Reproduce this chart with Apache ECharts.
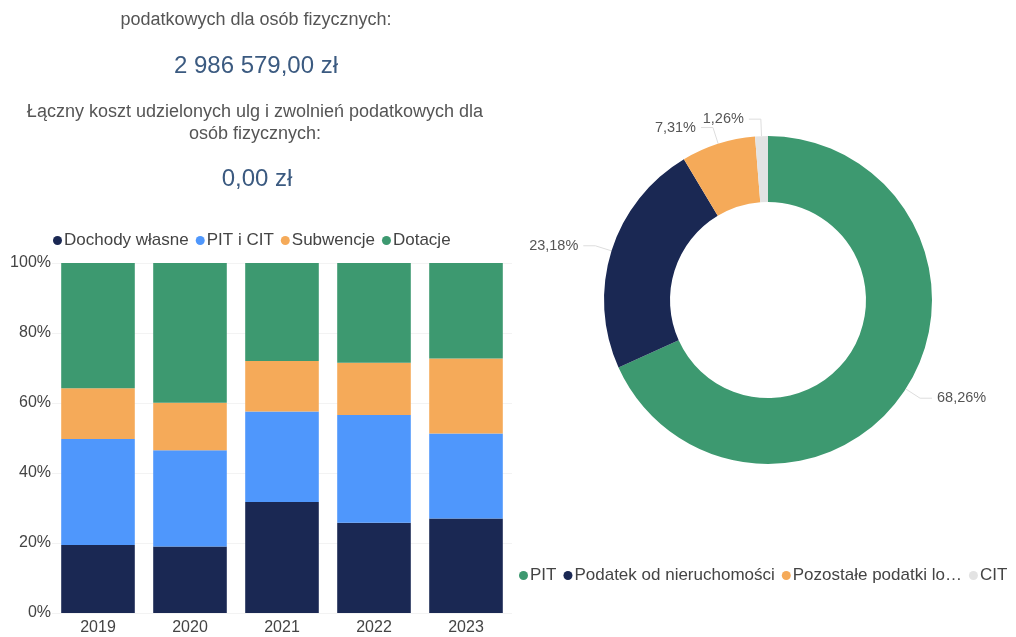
<!DOCTYPE html>
<html style="height: 100%">
<head>
    <meta charset="UTF-8">
    <title>Struktura dochodów</title>
    <script src="https://cdn.jsdelivr.net/npm/echarts@6/dist/echarts.min.js"></script>
</head>
<body style="height: 100%; margin: 0; background: #fff">
    <div id="main" style="width: 1016px; height: 637px;"></div>
    <script>
        // dane z wykresu
        var years = ['2019', '2020', '2021', '2022', '2023'];
        var dochodyWlasne = [19.4, 19.0, 31.7, 25.8, 27.0];
        var pitCit = [30.3, 27.5, 25.9, 30.8, 24.3];
        var subwencje = [14.5, 13.6, 14.4, 14.9, 21.4];
        var dotacje = [35.8, 39.9, 28.0, 28.5, 27.3];

        var podatkiNames = ['PIT', 'Podatek od nieruchomości', 'Pozostałe podatki lokalne', 'CIT'];
        var podatkiValues = [68.26, 23.18, 7.31, 1.26];

        var colors = ['#1a2853', '#4f97fc', '#f5aa59', '#3d9970'];
        var pieColors = ['#3d9970', '#1a2853', '#f5aa59', '#e3e3e3'];
        var font = 'Liberation Sans, Arial, sans-serif';

        var myChart = echarts.init(document.getElementById('main'));

        function barSeries(name, data, color) {
            return {
                name: name,
                type: 'bar',
                stack: 'total',
                data: data,
                barCategoryGap: '20%',
                itemStyle: { color: color }
            };
        }

        function txt(x, y, text, size, fill) {
            return {
                type: 'text', x: x, y: y,
                style: { text: text, fontSize: size, fill: fill, align: 'center', verticalAlign: 'middle', fontFamily: font }
            };
        }

        var option = {
            animation: false,
            textStyle: { fontFamily: font },
            graphic: [
                txt(256, 20, 'podatkowych dla osób fizycznych:', 18, '#555'),
                txt(256, 66, '2 986 579,00 zł', 24, '#3b5a80'),
                txt(255, 112, 'Łączny koszt udzielonych ulg i zwolnień podatkowych dla', 18, '#555'),
                txt(255, 134, 'osób fizycznych:', 18, '#555'),
                txt(257, 179, '0,00 zł', 24, '#3b5a80')
            ],
            legend: [{
                data: ['Dochody własne', 'PIT i CIT', 'Subwencje', 'Dotacje'],
                left: 48,
                top: 227,
                icon: 'circle',
                itemWidth: 9,
                itemHeight: 9,
                itemGap: 7,
                textStyle: { fontSize: 17, color: '#444', padding: [0, 0, 0, -3] }
            }, {
                data: podatkiNames,
                left: 514,
                top: 562,
                icon: 'circle',
                itemWidth: 9,
                itemHeight: 9,
                itemGap: 7,
                textStyle: { fontSize: 17, color: '#444', padding: [0, 0, 0, -3] },
                formatter: function (name) {
                    return name.length > 24 ? name.slice(0, 20) + '…' : name;
                }
            }],
            grid: {
                left: 52,
                top: 263,
                width: 460,
                bottom: 24
            },
            xAxis: {
                type: 'category',
                data: years,
                axisLine: { show: false },
                axisTick: { show: false },
                axisLabel: { fontSize: 16, color: '#444', margin: 7 }
            },
            yAxis: {
                type: 'value',
                min: 0,
                max: 100,
                interval: 20,
                axisLabel: { formatter: '{value}%', fontSize: 16, color: '#444', margin: 1 },
                splitLine: { lineStyle: { color: '#f3f3f3' } }
            },
            series: [
                barSeries('Dochody własne', dochodyWlasne, colors[0]),
                barSeries('PIT i CIT', pitCit, colors[1]),
                barSeries('Subwencje', subwencje, colors[2]),
                barSeries('Dotacje', dotacje, colors[3]),
                {
                    name: 'Podatki',
                    type: 'pie',
                    center: [768, 300],
                    radius: [98, 164],
                    startAngle: 90,
                    avoidLabelOverlap: false,
                    data: podatkiNames.map(function (n, i) {
                        return { name: n, value: podatkiValues[i], itemStyle: { color: pieColors[i] } };
                    }),
                    label: {
                        formatter: function (p) {
                            return p.value.toFixed(2).replace('.', ',') + '%';
                        },
                        fontSize: 14.5,
                        color: '#555'
                    },
                    labelLine: {
                        length: 17,
                        length2: 12,
                        lineStyle: { color: '#ddd' }
                    }
                }
            ]
        };

        myChart.setOption(option);
    </script>
</body>
</html>
